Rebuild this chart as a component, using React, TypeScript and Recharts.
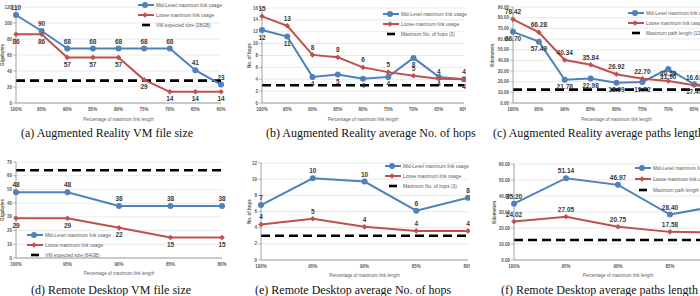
import { CartesianGrid, LabelList, Line, LineChart, ReferenceLine, XAxis, YAxis } from 'recharts';

const BLUE = '#4F81BD';
const RED = '#C0504D';
const FONT = '"Liberation Sans", Arial, sans-serif';

// categories
const arCats = ['100%', '95%', '90%', '85%', '80%', '75%', '70%', '65%', '60%'];
const rdCats = ['100%', '95%', '90%', '85%', '80%'];

// (a) Augmented Reality VM file size
const arSizeMid = [110, 90, 68, 68, 68, 68, 68, 41, 23];
const arSizeLoose = [86, 86, 57, 57, 57, 29, 14, 14, 14];
const arSizeLimit = 28;
const arSizeTicks = [0, 20, 40, 60, 80, 100, 120];

// (b) Augmented Reality average No. of hops
const arHopsMid = [12.3, 11.2, 4.4, 4.8, 4.1, 4.4, 7.6, 4.4, 4.0];
const arHopsLoose = [14.6, 13.0, 8.1, 7.7, 6.0, 5.2, 4.6, 4.1, 4.0];
const hopsLimit = 3;
const arHopsTicks = [0, 2, 4, 6, 8, 10, 12, 14, 16];

// (c) Augmented Reality average paths length
const arPathMid = [66.7, 57.49, 21.78, 22.98, 18.99, 19.72, 31.9, 17.49, 15.6];
const arPathLoose = [78.42, 66.28, 40.34, 35.84, 26.92, 22.7, 20.59, 16.63, 15.0];
const pathLimit = 12.5;
const arPathTicks = [0, 10, 20, 30, 40, 50, 60, 70, 80, 90];

// (d) Remote Desktop VM file size
const rdSizeMid = [48, 48, 38, 38, 38];
const rdSizeLoose = [29, 29, 22, 15, 15];
const rdSizeLimit = 64;
const rdSizeTicks = [0, 10, 20, 30, 40, 50, 60, 70];

// (e) Remote Desktop average No. of hops
const rdHopsMid = [6.8, 10.1, 9.7, 6.1, 7.7];
const rdHopsLoose = [4.4, 5.1, 4.1, 3.6, 3.6];
const rdHopsTicks = [0, 2, 4, 6, 8, 10, 12];

// (f) Remote Desktop average paths length
const rdPathMid = [35.2, 51.14, 46.97, 28.4, 34.3];
const rdPathLoose = [24.02, 27.05, 20.75, 17.58, 17.3];
const rdPathTicks = [0, 10, 20, 30, 40, 50, 60];

type Pos = 'top' | 'bottom';

type PanelCfg = {
  left: number;
  top: number;
  width: number;
  height: number;
  margin: { top: number; right: number; left: number; bottom: number };
  yWidth: number;
  yLabelOffset: number;
  xHeight: number;
  cats: string[];
  mid: number[];
  loose: number[];
  limit: number;
  ticks: number[];
  decimals: number;
  yTitle: string;
  midPos: Pos;
  loosePos: Pos;
};

const Diamond = (props: any) => {
  const { cx, cy, index } = props;
  if (cx == null || cy == null) return <g key={index} />;
  const s = 2.8;
  return (
    <path
      key={index}
      d={`M${cx},${cy - s}L${cx + s},${cy}L${cx},${cy + s}L${cx - s},${cy}Z`}
      fill={RED}
    />
  );
};

function Panel({ p }: { p: PanelCfg }) {
  const data = p.cats.map((cat, i) => ({ cat, mid: p.mid[i], loose: p.loose[i] }));
  const fmt = (v: any) => (p.decimals ? Number(v).toFixed(p.decimals) : String(Math.round(Number(v))));
  const labelStyle = { fontSize: 6.5, fontWeight: 700, fill: '#3a3a3a', fontFamily: FONT };
  return (
    <div style={{ position: 'absolute', left: p.left, top: p.top }}>
      <LineChart width={p.width} height={p.height} data={data} margin={p.margin}>
        <CartesianGrid vertical={false} stroke="#dcdcdc" strokeWidth={0.6} />
        <XAxis
          dataKey="cat"
          height={p.xHeight}
          interval={0}
          tickLine={false}
          tickSize={3}
          tickMargin={2}
          axisLine={{ stroke: '#8c8c8c', strokeWidth: 0.8 }}
          tick={{ fontSize: 4.5, fill: '#595959', fontFamily: FONT, fontWeight: 700 }}
          label={{
            value: 'Percentage of maximum link length',
            position: 'insideBottom',
            offset: 3,
            style: { fontSize: 4.5, fill: '#595959', fontFamily: FONT },
          }}
        />
        <YAxis
          width={p.yWidth}
          domain={[0, p.ticks[p.ticks.length - 1]]}
          ticks={p.ticks}
          interval={0}
          tickSize={3}
          tickMargin={1}
          tickFormatter={(v: number) => (p.decimals ? v.toFixed(2) : String(v))}
          axisLine={{ stroke: '#8c8c8c', strokeWidth: 0.8 }}
          tickLine={{ stroke: '#8c8c8c', strokeWidth: 0.6 }}
          tick={{ fontSize: 4.5, fill: '#595959', fontFamily: FONT, fontWeight: 700 }}
          label={{
            value: p.yTitle,
            angle: -90,
            position: 'insideLeft',
            offset: p.yLabelOffset,
            style: { fontSize: 4.5, fill: '#595959', fontFamily: FONT, textAnchor: 'middle', fontWeight: 700 },
          }}
        />
        <ReferenceLine
          segment={[
            { x: p.cats[0], y: p.limit },
            { x: p.cats[p.cats.length - 1], y: p.limit },
          ]}
          stroke="#000"
          strokeWidth={2.6}
          strokeDasharray="9 5"
        />
        <Line
          dataKey="mid"
          stroke={BLUE}
          strokeWidth={2}
          dot={{ r: 3, fill: BLUE, stroke: BLUE, strokeWidth: 0 }}
          isAnimationActive={false}
        >
          <LabelList dataKey="mid" position={p.midPos} offset={5} formatter={fmt} style={labelStyle} />
        </Line>
        <Line dataKey="loose" stroke={RED} strokeWidth={2} dot={Diamond} isAnimationActive={false}>
          <LabelList dataKey="loose" position={p.loosePos} offset={5} formatter={fmt} style={labelStyle} />
        </Line>
      </LineChart>
    </div>
  );
}

function LegendBox({ x, y, gap, limitName }: { x: number; y: number; gap: number; limitName: string }) {
  const rows = [
    { name: 'Mid-Level maximum link usage', kind: 'mid' },
    { name: 'Loose maximum link usage', kind: 'loose' },
    { name: limitName, kind: 'limit' },
  ];
  return (
    <>
      {rows.map((r, i) => (
        <div
          key={r.name}
          style={{
            position: 'absolute',
            left: x,
            top: y + i * gap - 4,
            height: 8,
            display: 'flex',
            alignItems: 'center',
            whiteSpace: 'nowrap',
          }}
        >
          <svg width={16} height={8} style={{ display: 'block' }}>
            {r.kind === 'mid' && (
              <>
                <line x1={0} y1={4} x2={16} y2={4} stroke={BLUE} strokeWidth={2} />
                <circle cx={7} cy={4} r={3} fill={BLUE} />
              </>
            )}
            {r.kind === 'loose' && (
              <>
                <line x1={0} y1={4} x2={16} y2={4} stroke={RED} strokeWidth={2} />
                <path d="M7,1.2L9.8,4L7,6.8L4.2,4Z" fill={RED} />
              </>
            )}
            {r.kind === 'limit' && <line x1={4} y1={4} x2={12} y2={4} stroke="#000" strokeWidth={2.6} />}
          </svg>
          <span style={{ fontSize: 4.8, color: '#595959', fontFamily: FONT, marginLeft: 2 }}>{r.name}</span>
        </div>
      ))}
    </>
  );
}

const captionStyle = {
  position: 'absolute' as const,
  fontFamily: '"Liberation Serif", "Times New Roman", serif',
  fontSize: 12,
  color: '#111',
  whiteSpace: 'nowrap' as const,
  lineHeight: '14px',
};

const panels: PanelCfg[] = [
  {
    left: 0, top: 0, width: 232, height: 124,
    margin: { top: 7, right: 11, left: 0, bottom: 0 },
    yWidth: 16, yLabelOffset: 2, xHeight: 21,
    cats: arCats, mid: arSizeMid, loose: arSizeLoose, limit: arSizeLimit, ticks: arSizeTicks,
    decimals: 0, yTitle: 'Gigabytes', midPos: 'top', loosePos: 'bottom',
  },
  {
    left: 232, top: 0, width: 234, height: 124,
    margin: { top: 8, right: 2, left: 0, bottom: 0 },
    yWidth: 30, yLabelOffset: 17, xHeight: 21,
    cats: arCats, mid: arHopsMid, loose: arHopsLoose, limit: hopsLimit, ticks: arHopsTicks,
    decimals: 0, yTitle: 'No. of hops', midPos: 'bottom', loosePos: 'top',
  },
  {
    left: 464, top: 0, width: 260, height: 124,
    margin: { top: 7, right: 4, left: 0, bottom: 0 },
    yWidth: 49, yLabelOffset: 28, xHeight: 21,
    cats: arCats, mid: arPathMid, loose: arPathLoose, limit: pathLimit, ticks: arPathTicks,
    decimals: 2, yTitle: 'Kilometers', midPos: 'bottom', loosePos: 'top',
  },
  {
    left: 0, top: 148, width: 232, height: 130,
    margin: { top: 14, right: 10, left: 0, bottom: 0 },
    yWidth: 16, yLabelOffset: 2, xHeight: 20,
    cats: rdCats, mid: rdSizeMid, loose: rdSizeLoose, limit: rdSizeLimit, ticks: rdSizeTicks,
    decimals: 0, yTitle: 'Gigabytes', midPos: 'top', loosePos: 'bottom',
  },
  {
    left: 232, top: 148, width: 238, height: 132,
    margin: { top: 15, right: 2, left: 0, bottom: 0 },
    yWidth: 29, yLabelOffset: 17, xHeight: 20,
    cats: rdCats, mid: rdHopsMid, loose: rdHopsLoose, limit: hopsLimit, ticks: rdHopsTicks,
    decimals: 0, yTitle: 'No. of hops', midPos: 'top', loosePos: 'top',
  },
  {
    left: 464, top: 148, width: 262, height: 132,
    margin: { top: 16, right: 4, left: 0, bottom: 0 },
    yWidth: 50, yLabelOffset: 30, xHeight: 20,
    cats: rdCats, mid: rdPathMid, loose: rdPathLoose, limit: pathLimit, ticks: rdPathTicks,
    decimals: 2, yTitle: 'Kilometers', midPos: 'top', loosePos: 'top',
  },
];

export default function App() {
  return (
    <div
      style={{
        position: 'fixed',
        left: 0,
        top: 0,
        width: 700,
        height: 296,
        overflow: 'hidden',
        background: '#fff',
      }}
    >
      {panels.map((p, i) => (
        <Panel key={i} p={p} />
      ))}

      <LegendBox x={138} y={5} gap={10} limitName="VM expected size (28GB)" />
      <LegendBox x={383} y={14} gap={10} limitName="Maximum No. of hops (3)" />
      <LegendBox x={628} y={13} gap={10} limitName="Maximum path length (12.5km)" />
      <LegendBox x={27} y={235} gap={10} limitName="VM expected size (64GB)" />
      <LegendBox x={385} y={166} gap={10} limitName="Maximum No. of hops (3)" />
      <LegendBox x={635} y={168} gap={11} limitName="Maximum path length (12.5km)" />

      <div style={{ ...captionStyle, left: 21, top: 126 }}>(a) Augmented Reality VM file size</div>
      <div style={{ ...captionStyle, left: 266, top: 126 }}>(b) Augmented Reality average No. of hops</div>
      <div style={{ ...captionStyle, left: 493, top: 126 }}>(c) Augmented Reality average paths length</div>
      <div style={{ ...captionStyle, left: 31, top: 283 }}>(d) Remote Desktop VM file size</div>
      <div style={{ ...captionStyle, left: 255, top: 283 }}>(e) Remote Desktop average No. of hops</div>
      <div style={{ ...captionStyle, left: 501, top: 283 }}>(f) Remote Desktop average paths length</div>
    </div>
  );
}
